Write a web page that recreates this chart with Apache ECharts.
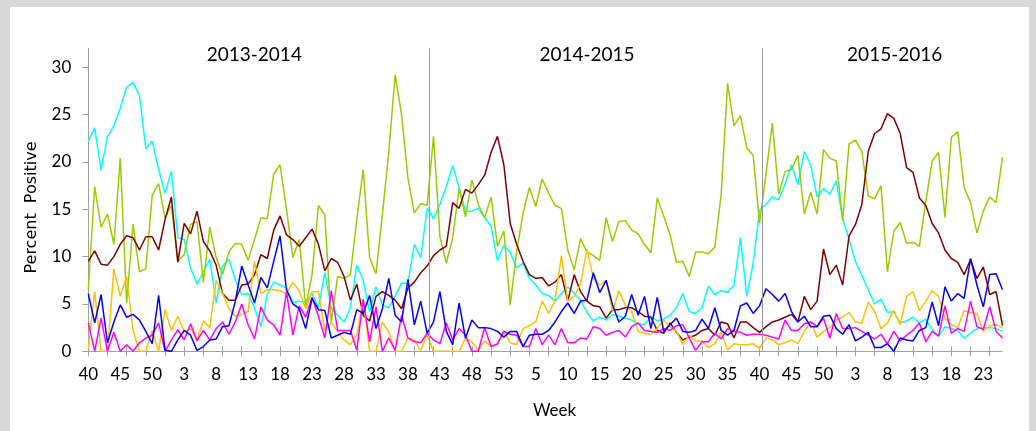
<!DOCTYPE html>
<html><head><meta charset="utf-8">
<script src="https://cdn.jsdelivr.net/npm/echarts@6/dist/echarts.min.js"></script>
<style>
html,body{margin:0;padding:0;background:#d9d9d9;width:1036px;height:431px;overflow:hidden}
#chart{position:absolute;left:10px;top:7px;width:1019px;height:424px;background:#fff}
</style></head><body><div id="chart"></div>
<script>
// Week spans: [year, first week, last week]
const yearSpans = [[2013,40,52],[2014,1,53],[2015,1,52],[2016,1,26]];
const seasonLabels = ['2013-2014','2014-2015','2015-2016'];
const seasonDividers = [53.4, 105.4];
const yTicks = [0,5,10,15,20,25,30];

const cyanValues = [22.2,23.6,19.1,22.7,23.8,25.7,27.9,28.4,27.0,21.4,22.2,19.2,16.7,19.0,12.0,11.8,8.8,7.1,8.4,9.7,5.1,9.0,9.7,7.5,
6.0,6.1,4.6,2.6,6.0,7.3,7.0,6.7,5.1,5.3,5.1,6.1,4.6,8.3,4.6,3.8,3.1,4.6,9.1,7.5,4.2,6.8,4.9,4.6,
5.8,7.2,7.2,11.3,9.9,15.1,14.0,15.5,17.4,19.6,17.3,14.8,14.8,15.1,14.1,13.2,9.6,11.2,10.4,8.8,9.3,7.7,7.0,
6.1,5.9,5.3,6.1,6.8,6.1,5.4,4.1,3.2,3.6,3.3,3.9,3.7,3.5,3.3,2.9,2.8,3.7,3.2,3.4,3.8,4.6,6.1,4.2,
4.0,4.6,6.9,6.0,6.4,6.2,7.0,12.0,5.8,9.3,14.9,15.5,16.3,16.0,17.7,19.7,17.6,21.1,19.7,16.3,17.2,16.6,18.0,
14.0,11.8,9.5,8.0,6.5,5.0,5.5,4.1,4.2,3.0,3.2,3.6,3.0,3.4,2.3,1.6,2.6,2.4,2.2,1.4,1.9,2.4,2.5,2.5,2.4,2.1];

const greenValues = [6.5,17.4,13.1,14.5,11.3,20.4,5.1,13.4,8.4,8.7,16.5,17.7,14.1,15.4,9.5,10.2,13.4,13.7,7.3,13.1,9.9,8.1,10.5,11.4,
11.3,9.6,11.8,14.1,14.0,18.7,19.7,15.0,9.9,11.8,4.7,8.1,15.4,14.4,3.0,7.9,7.7,8.1,13.9,19.2,9.9,8.2,14.4,21.0,
29.2,25.0,18.3,14.6,15.6,15.4,22.7,12.1,9.3,12.0,17.2,14.2,18.1,15.5,14.1,16.3,11.1,12.7,4.9,10.5,14.6,17.3,15.3,
18.2,16.7,15.4,15.1,10.7,8.6,11.9,10.5,10.1,9.6,14.1,11.6,13.7,13.8,12.8,12.4,11.3,10.4,16.2,14.3,12.3,9.4,9.5,7.9,
10.5,10.5,10.3,11.0,16.6,28.3,23.8,24.9,21.5,20.7,13.5,18.7,24.1,16.6,19.0,19.2,20.7,14.5,16.8,14.5,21.3,20.4,20.1,
13.8,21.9,22.3,21.1,16.4,16.1,17.5,8.4,12.7,13.6,11.4,11.5,11.1,15.8,20.1,21.0,14.1,22.6,23.2,17.3,15.7,12.5,14.8,16.3,15.7,20.5];

const brownValues = [9.5,10.6,9.2,9.1,10.0,11.3,12.2,12.0,10.7,12.1,12.1,10.7,13.9,16.3,9.4,13.5,12.4,14.8,11.6,10.6,9.1,6.1,5.4,5.4,
7.0,7.1,8.1,10.2,9.8,12.8,14.3,12.3,11.8,11.1,12.0,12.9,11.3,8.5,9.8,9.4,7.9,5.4,7.1,3.8,3.2,5.8,6.3,5.9,
5.4,4.5,6.7,7.3,8.3,9.0,10.1,10.7,11.1,15.7,15.1,17.1,16.7,17.6,18.6,21.0,22.7,19.7,13.5,11.3,9.5,8.1,7.7,
7.8,6.9,7.3,8.1,5.3,8.1,6.3,5.3,4.8,4.7,3.5,4.4,4.4,4.6,4.6,4.2,3.7,3.6,2.2,1.9,3.0,2.0,1.2,1.5,
1.7,2.2,2.4,1.7,3.1,2.9,1.4,3.1,3.1,2.5,2.0,2.6,3.1,3.3,3.6,3.9,3.1,5.8,4.4,5.3,10.8,8.1,9.1,
7.0,12.2,13.4,15.5,21.1,23.0,23.5,25.1,24.6,23.0,19.4,18.9,16.2,15.4,13.5,12.5,10.7,9.8,9.4,8.1,9.7,7.7,8.9,6.0,6.3,2.7];

const blueValues = [6.1,3.0,6.0,0.9,3.1,4.9,3.6,3.9,3.3,2.1,0.8,5.9,0.1,0.0,1.2,2.2,1.7,0.1,0.5,1.2,1.3,2.6,2.7,5.3,
9.0,7.0,5.1,7.8,6.7,9.5,12.2,6.5,5.0,4.5,2.4,5.6,4.4,4.3,1.4,1.7,2.0,1.8,4.4,4.0,5.9,2.4,4.5,7.7,
3.8,3.1,7.6,2.8,5.3,1.9,3.1,6.3,2.1,0.7,5.1,1.4,3.3,2.5,2.5,2.4,2.1,1.5,2.1,2.1,0.5,1.7,1.8,
1.8,2.2,3.1,4.2,5.1,4.0,5.3,5.4,8.3,6.2,7.5,4.9,3.1,3.7,6.0,3.8,5.8,2.4,5.7,2.1,2.8,3.5,2.1,2.0,
2.2,3.4,2.4,4.6,2.2,1.7,2.2,4.8,5.1,4.0,4.8,6.6,6.0,5.3,6.1,4.2,3.1,3.7,2.6,2.6,3.7,3.8,2.4,
1.8,2.8,1.1,1.5,2.0,0.4,0.4,0.8,0.0,1.4,1.2,1.1,2.2,2.5,5.2,2.7,6.8,5.3,6.1,5.6,9.8,7.0,4.7,8.1,8.2,6.5];

const orangeValues = [0.3,6.3,0,0,8.7,5.8,7.9,2.2,0,0,2.2,0,4.4,2.2,3.7,2.1,2.4,1.2,3.2,2.5,7.5,6.1,4.5,3.7,
3.9,4.2,9.5,6.1,6.5,6.5,6.4,6.1,7.3,6.4,4.5,6.3,6.3,2.2,3.0,2.1,1.2,0.7,1.7,5.5,0,0,3.1,2.0,
0,0,1.4,1.2,0.1,1.7,0,0,0,0,0,1.4,1.0,0.1,1.1,0.5,0.7,2.1,0.9,0.7,2.4,2.7,3.1,
5.3,4.0,5.3,10.1,5.3,5.8,7.1,10.8,7.7,7.0,7.5,4.2,6.4,4.9,4.2,2.1,1.9,1.8,2.4,3.3,2.6,2.1,0.7,1.7,
1.1,1.1,0.4,0.8,2.0,0.1,0.8,0.7,0.7,0.8,0.3,1.4,1.2,0.7,0.9,1.2,0.8,2.1,3.1,1.5,2.1,2.5,3.3,
3.6,4.1,3.1,3.0,5.2,4.2,2.4,3.0,4.3,2.8,5.8,6.3,4.3,5.3,6.4,5.8,3.5,2.8,2.5,4.3,4.1,4.0,2.1,2.7,2.8,2.5];

const magentaValues = [3.0,0,3.5,0,2.0,0,0.7,0,0.9,1.4,1.7,3.0,0,1.2,2.3,1.2,2.9,1.1,2.2,1.2,2.4,3.1,1.8,3.1,
5.0,2.8,1.3,4.7,3.3,2.8,1.7,6.3,1.7,4.8,3.6,5.7,3.7,1.4,6.4,2.2,2.2,2.2,0.1,5.5,1.0,4.7,0,1.4,
0.1,3.8,1.4,1.0,0.9,1.9,1.2,0.8,3.0,1.2,2.4,1.7,0,0,2.5,0.5,0.8,2.1,1.8,1.7,0.5,0.5,2.4,
0.7,1.7,0.7,2.4,0.9,0.9,1.4,1.3,2.6,2.4,1.7,2.0,2.2,1.5,2.6,3.0,2.2,2.1,2.0,2.4,2.2,2.7,2.8,1.4,
0.1,1.0,1.0,1.9,1.3,2.4,2.1,2.0,1.7,1.8,1.8,1.7,1.5,1.3,3.3,2.2,2.2,2.9,3.1,2.6,3.5,1.4,4.0,
2.4,2.4,2.5,2.1,1.7,1.3,1.8,0.8,2.1,1.1,1.7,2.2,3.0,1.0,2.1,1.6,4.8,1.9,2.4,2.1,5.3,2.6,2.3,4.7,2.1,1.4];

const categories = [];
yearSpans.forEach(function (s) { for (let w = s[1]; w <= s[2]; w++) categories.push(s[0] + '-' + w); });

const axisColor = '#a0a0a0';
const numFont = 'Lato, "Open Sans", sans-serif';

const lineDefs = [
  ['cyan', cyanValues, '#00ffff'],
  ['green', greenValues, '#99cc00'],
  ['brown', brownValues, '#800000'],
  ['orange', orangeValues, '#ffc000'],
  ['magenta', magentaValues, '#ff00ff'],
  ['blue', blueValues, '#0000ff']
];

const series = lineDefs.map(function (d) {
  return {
    name: d[0], type: 'line', data: d[1], xAxisIndex: 0, yAxisIndex: 0,
    symbol: 'none', showSymbol: false, silent: true,
    lineStyle: { color: d[2], width: 1.5 }, itemStyle: { color: d[2] },
    emphasis: { disabled: true }
  };
});
series.push({
  type: 'line', xAxisIndex: 2, yAxisIndex: 0, data: [[0, '-']], symbol: 'none', silent: true,
  markLine: {
    silent: true, symbol: ['none', 'none'], label: { show: false },
    lineStyle: { color: '#999999', width: 1, type: 'solid' },
    emphasis: { disabled: true },
    data: seasonDividers.map(function (v) { return { xAxis: v }; })
  }
});

const seasonCenters = [244.3, 577, 884.7];

const chart = echarts.init(document.getElementById('chart'));
chart.setOption({
  animation: false,
  grid: { left: 78.3, top: 41.3, right: 26.5, bottom: 79.7 },
  xAxis: [
    { type: 'category', data: categories, boundaryGap: false, position: 'bottom',
      axisLine: { onZero: false, lineStyle: { color: axisColor, width: 1 } },
      axisTick: { show: true, interval: 2, length: 5, lineStyle: { color: axisColor } },
      axisLabel: { interval: 4, margin: 15, color: '#000', fontFamily: numFont, fontSize: 17,
        formatter: function (v) { return v.split('-')[1]; } },
      splitLine: { show: false } },
    { type: 'category', data: categories, boundaryGap: false, position: 'top', offset: -303,
      axisLine: { show: false, onZero: false },
      axisTick: { show: true, interval: 2, length: 5, lineStyle: { color: axisColor } },
      axisLabel: { show: false }, splitLine: { show: false } },
    { type: 'value', min: 0, max: categories.length - 1, show: false }
  ],
  yAxis: [
    { type: 'value', min: 0, max: 32, interval: 5,
      axisLine: { show: true, onZero: false, lineStyle: { color: axisColor, width: 1 } },
      axisTick: { show: true, length: 6, lineStyle: { color: axisColor }, customValues: yTicks },
      axisLabel: { margin: 17, color: '#000', fontFamily: numFont, fontSize: 17, customValues: yTicks,
        formatter: function (v) { return v % 5 === 0 ? String(v) : ''; } },
      splitLine: { show: false } }
  ],
  graphic: seasonLabels.map(function (t, i) {
    return { type: 'text', x: seasonCenters[i], y: 48, silent: true,
      style: { text: t, align: 'center', verticalAlign: 'middle', font: '19px Lato, "Open Sans", sans-serif', fill: '#000' } };
  }).concat([
    { type: 'text', x: 544.5, y: 404, silent: true,
      style: { text: 'Week', align: 'center', verticalAlign: 'middle', font: '17px Lato, "Open Sans", sans-serif', fill: '#000' } },
    { type: 'text', x: 22, y: 200.5, rotation: Math.PI / 2, silent: true,
      style: { text: 'Percent  Positive', align: 'center', verticalAlign: 'middle', font: '16px "DejaVu Sans", sans-serif', fill: '#000' } }
  ]),
  series: series
});
</script></body></html>
